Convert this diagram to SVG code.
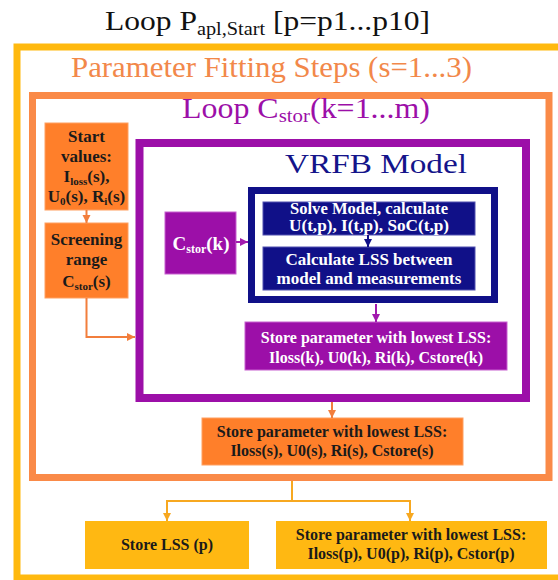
<svg xmlns="http://www.w3.org/2000/svg" width="558" height="580" viewBox="0 0 558 580">
  <defs>
    <marker id="arrOrange" markerUnits="userSpaceOnUse" markerWidth="10" markerHeight="10" refX="8" refY="5" orient="auto">
      <path d="M0,1 L8,5 L0,9 Z" fill="#F27E3C"/>
    </marker>
    <marker id="arrPurple" markerUnits="userSpaceOnUse" markerWidth="10" markerHeight="10" refX="8" refY="5" orient="auto">
      <path d="M0,1 L8,5 L0,9 Z" fill="#A21AAE"/>
    </marker>
    <marker id="arrNavy" markerUnits="userSpaceOnUse" markerWidth="10" markerHeight="10" refX="8" refY="5" orient="auto">
      <path d="M0,1 L8,5 L0,9 Z" fill="#101088"/>
    </marker>
    <marker id="arrYellow" markerUnits="userSpaceOnUse" markerWidth="10" markerHeight="10" refX="8" refY="5" orient="auto">
      <path d="M0,1 L8,5 L0,9 Z" fill="#F7A820"/>
    </marker>
  </defs>

  <rect width="558" height="580" fill="#ffffff"/>

  <!-- Loop over start parameter sets -->
  <g id="loop-papl">
    <text font-family="Liberation Serif" x="267.5" y="30" font-size="28" text-anchor="middle" fill="#111111" textLength="325" lengthAdjust="spacingAndGlyphs">Loop P<tspan font-size="18" dy="5">apl,Start</tspan><tspan dy="-5"> [p=p1...p10]</tspan></text>
    <rect x="17" y="47" width="545" height="531" fill="none" stroke="#FFB90F" stroke-width="7"/>
  </g>

  <!-- Parameter fitting steps -->
  <g id="fitting-steps">
    <text font-family="Liberation Serif" x="271.5" y="77" font-size="30" text-anchor="middle" fill="#F2884A" textLength="401" lengthAdjust="spacingAndGlyphs">Parameter Fitting Steps (s=1...3)</text>
    <rect x="32.5" y="95.5" width="516.5" height="382" fill="none" stroke="#FA8A48" stroke-width="7"/>
  </g>

  <!-- Loop over storage capacity -->
  <g id="loop-cstor">
    <text font-family="Liberation Serif" x="306" y="118" font-size="29" text-anchor="middle" fill="#9C0FA8" textLength="248" lengthAdjust="spacingAndGlyphs">Loop C<tspan font-size="19" dy="4">stor</tspan><tspan dy="-4">(k=1...m)</tspan></text>
    <rect x="139.5" y="143" width="386.5" height="255" fill="none" stroke="#9C0FA8" stroke-width="8"/>
  </g>

  <!-- VRFB model block -->
  <g id="vrfb-model">
    <text font-family="Liberation Serif" x="376" y="173" font-size="28" text-anchor="middle" fill="#14148A" textLength="182" lengthAdjust="spacingAndGlyphs">VRFB Model</text>
    <rect x="251.5" y="190.5" width="243" height="109" fill="none" stroke="#101088" stroke-width="7"/>
  </g>

  <g id="start-values" font-weight="bold" text-anchor="middle" fill="#1a1a1a">
    <rect x="45" y="123" width="83" height="87" fill="#FF7F2A" stroke="#FFA060" stroke-width="1"/>
    <text font-family="Liberation Serif" font-size="17" x="86.5" y="142">Start</text>
    <text font-family="Liberation Serif" font-size="17" x="86.5" y="162">values:</text>
    <text font-family="Liberation Serif" font-size="17" x="86.5" y="182">I<tspan font-size="11" dy="3">loss</tspan><tspan dy="-3">(s),</tspan></text>
    <text font-family="Liberation Serif" font-size="17" x="86.5" y="202">U<tspan font-size="11" dy="3">0</tspan><tspan dy="-3">(s), R</tspan><tspan font-size="11" dy="3">i</tspan><tspan dy="-3">(s)</tspan></text>
  </g>

  <g id="screening-range" font-weight="bold" text-anchor="middle" fill="#1a1a1a">
    <rect x="45" y="223" width="83" height="75" fill="#FF7F2A" stroke="#FFA060" stroke-width="1"/>
    <text font-family="Liberation Serif" font-size="17" x="86.5" y="245">Screening</text>
    <text font-family="Liberation Serif" font-size="17" x="86.5" y="265">range</text>
    <text font-family="Liberation Serif" font-size="17" x="86.5" y="287">C<tspan font-size="11" dy="3">stor</tspan><tspan dy="-3">(s)</tspan></text>
  </g>

  <g id="cstor-k" font-weight="bold" text-anchor="middle" fill="#ffffff">
    <rect x="165" y="212" width="71" height="62" fill="#9C0FA8" stroke="#C860D0" stroke-width="1"/>
    <text font-family="Liberation Serif" font-size="19" x="201" y="250">C<tspan font-size="12" dy="3">stor</tspan><tspan dy="-3">(k)</tspan></text>
  </g>

  <g id="solve-model" font-weight="bold" text-anchor="middle" fill="#ffffff">
    <rect x="263" y="202" width="212" height="33" fill="#101088" stroke="#5050B0" stroke-width="1"/>
    <text font-family="Liberation Serif" font-size="16" x="369" y="214" textLength="158" lengthAdjust="spacingAndGlyphs">Solve Model, calculate</text>
    <text font-family="Liberation Serif" font-size="16" x="369" y="231" textLength="160" lengthAdjust="spacingAndGlyphs">U(t,p), I(t,p), SoC(t,p)</text>
  </g>

  <g id="calc-lss" font-weight="bold" text-anchor="middle" fill="#ffffff">
    <rect x="263" y="247" width="212" height="43" fill="#101088" stroke="#5050B0" stroke-width="1"/>
    <text font-family="Liberation Serif" font-size="17" x="369" y="265">Calculate LSS between</text>
    <text font-family="Liberation Serif" font-size="17" x="369" y="284">model and measurements</text>
  </g>

  <g id="store-k" font-weight="bold" text-anchor="middle" fill="#ffffff">
    <rect x="245" y="322" width="262" height="48" fill="#9C0FA8" stroke="#C860D0" stroke-width="1"/>
    <text font-family="Liberation Serif" font-size="16" x="376" y="343">Store parameter with lowest LSS:</text>
    <text font-family="Liberation Serif" font-size="16" x="376" y="363">Iloss(k), U0(k), Ri(k), Cstore(k)</text>
  </g>

  <g id="store-s" font-weight="bold" text-anchor="middle" fill="#1a1a1a">
    <rect x="202" y="418" width="261" height="47" fill="#FF7F2A" stroke="#FFA060" stroke-width="1"/>
    <text font-family="Liberation Serif" font-size="16" x="332" y="437">Store parameter with lowest LSS:</text>
    <text font-family="Liberation Serif" font-size="16" x="332" y="456">Iloss(s), U0(s), Ri(s), Cstore(s)</text>
  </g>

  <g id="store-lss-p" font-weight="bold" text-anchor="middle" fill="#1a1a1a">
    <rect x="85" y="521" width="164" height="48" fill="#FFB812"/>
    <text font-family="Liberation Serif" font-size="16" x="167" y="550">Store LSS (p)</text>
  </g>

  <g id="store-p" font-weight="bold" text-anchor="middle" fill="#1a1a1a">
    <rect x="276" y="521" width="271" height="48" fill="#FFB812"/>
    <text font-family="Liberation Serif" font-size="16" x="411" y="540">Store parameter with lowest LSS:</text>
    <text font-family="Liberation Serif" font-size="16" x="411" y="559">Iloss(p), U0(p), Ri(p), Cstor(p)</text>
  </g>

  <!-- connectors -->
  <g id="connectors" fill="none" stroke-width="2">
    <path d="M86.5,210 L86.5,223" stroke="#F27E3C" marker-end="url(#arrOrange)"/>
    <path d="M86.5,298 L86.5,337 L135,337" stroke="#F27E3C" marker-end="url(#arrOrange)"/>
    <path d="M236,242 L248,242" stroke="#A21AAE" marker-end="url(#arrPurple)"/>
    <path d="M368,235 L368,247" stroke="#101088" marker-end="url(#arrNavy)"/>
    <path d="M376,304 L376,322" stroke="#A21AAE" marker-end="url(#arrPurple)"/>
    <path d="M332,402 L332,418" stroke="#F27E3C" marker-end="url(#arrOrange)"/>
    <path d="M292,481 L292,501 M167,501 L410,501" stroke="#F7A820"/>
    <path d="M167,500 L167,521" stroke="#F7A820" marker-end="url(#arrYellow)"/>
    <path d="M410,500 L410,521" stroke="#F7A820" marker-end="url(#arrYellow)"/>
  </g>
</svg>
